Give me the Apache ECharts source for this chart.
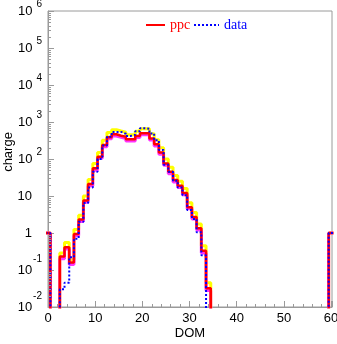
<!DOCTYPE html>
<html>
<head>
<meta charset="utf-8">
<script src="https://cdn.jsdelivr.net/npm/echarts@6/dist/echarts.min.js"></script>
<style>
  html, body { margin: 0; padding: 0; background: #fff; }
  #chart { width: 337px; height: 344px; }
</style>
</head>
<body>
<div id="chart"></div>
<script>
// Charge per DOM (bins centred on integer DOM numbers 0..60)
const ppc = [
  1, 0, 0, 0.23, 0.41, 0.16, 0.94, 2.3, 7.5, 21,
  56, 115, 240, 390, 465, 425, 400, 340, 340, 420,
  500, 500, 360, 250, 150, 76, 45, 27, 19, 12,
  5.0, 2.7, 1.34, 0.33, 0.032, 0, 0, 0, 0, 0,
  0, 0, 0, 0, 0, 0, 0, 0, 0, 0,
  0, 0, 0, 0, 0, 0, 0, 0, 0, 0,
  1
];
const ppcUpper = [
  1, 0, 0, 0.29, 0.55, 0.19, 1.25, 3.0, 10, 28,
  75, 150, 320, 520, 620, 570, 530, 450, 450, 560,
  660, 660, 480, 330, 200, 100, 60, 36, 25, 16,
  6.6, 3.6, 1.75, 0.45, 0.045, 0, 0, 0, 0, 0,
  0, 0, 0, 0, 0, 0, 0, 0, 0, 0,
  0, 0, 0, 0, 0, 0, 0, 0, 0, 0,
  1
];
const ppcLower = [
  1, 0, 0, 0.2, 0.37, 0.14, 0.85, 2.05, 6.8, 19,
  50, 104, 215, 350, 420, 385, 360, 305, 305, 380,
  450, 450, 325, 225, 135, 68, 40, 24, 17, 10.8,
  4.5, 2.4, 1.2, 0.29, 0.028, 0, 0, 0, 0, 0,
  0, 0, 0, 0, 0, 0, 0, 0, 0, 0,
  0, 0, 0, 0, 0, 0, 0, 0, 0, 0,
  1
];
const data = [
  1, 0, 0, 0.03, 0.045, 0.22, 0.7, 2.0, 6.5, 17,
  45, 100, 230, 400, 540, 540, 480, 420, 450, 560,
  680, 660, 490, 320, 175, 70, 45, 26, 17, 10.5,
  4.2, 2.4, 1.05, 0.25, 0, 0, 0, 0, 0, 0,
  0, 0, 0, 0, 0, 0, 0, 0, 0, 0,
  0, 0, 0, 0, 0, 0, 0, 0, 0, 0,
  1
];
const xTickLabels = ['0', '10', '20', '30', '40', '50', '60'];

// empty bins sit far below the log axis floor and get clipped
const EMPTY = 1e-6;
function histSteps(values) {
  const pts = [];
  values.forEach((v, i) => {
    const y = v > 0 ? v : EMPTY;
    pts.push([i - 0.5, y], [i + 0.5, y]);
  });
  return pts;
}

// log-axis minor tick positions (2..9 x 10^n)
const minorTicks = [];
for (let e = -2; e < 6; e++) {
  for (let k = 2; k <= 9; k++) minorTicks.push([0, k * Math.pow(10, e)]);
}

const AXIS = '#9a9a9a';
const sans = 'Liberation Sans, Arial, sans-serif';
const serif = 'Liberation Serif, Times New Roman, serif';
const noSymbol = { color: 'rgba(0,0,0,0)', borderColor: 'rgba(0,0,0,0)', borderWidth: 0 };

const chart = echarts.init(document.getElementById('chart'), null, { renderer: 'canvas' });
chart.setOption({
  animation: false,
  backgroundColor: '#fff',
  grid: {
    left: 48, right: 5, top: 11, bottom: 37,
    containLabel: false, outerBoundsMode: 'none',
    show: true, borderColor: AXIS, borderWidth: 1
  },
  legend: [
    {
      data: [{ name: 'ppc', textStyle: { color: '#ff0000' } }],
      left: 140, top: 13, itemWidth: 19, itemHeight: 14, itemStyle: noSymbol,
      textStyle: { fontFamily: serif, fontSize: 14 }
    },
    {
      data: [{ name: 'data', textStyle: { color: '#0000ff' } }],
      left: 188, top: 13, itemWidth: 25, itemHeight: 14, itemStyle: noSymbol,
      textStyle: { fontFamily: serif, fontSize: 14 }
    }
  ],
  xAxis: {
    type: 'value', min: 0, max: 60.2, interval: 10,
    name: 'DOM', nameLocation: 'middle', nameGap: 20, nameMoveOverlap: false,
    nameTextStyle: { fontFamily: sans, fontSize: 13, color: '#000' },
    axisLine: { show: true, onZero: false, lineStyle: { color: AXIS } },
    axisTick: { show: true, inside: true, length: 6, lineStyle: { color: AXIS } },
    minorTick: { show: true, splitNumber: 5, length: 3, lineStyle: { color: AXIS } },
    splitLine: { show: false },
    axisLabel: {
      margin: 5, fontFamily: sans, fontSize: 13, color: '#000',
      formatter: v => {
        const idx = Math.round(v / 10);
        return Math.abs(v - idx * 10) < 1e-6 && xTickLabels[idx] !== undefined ? xTickLabels[idx] : '';
      }
    }
  },
  yAxis: {
    type: 'log', logBase: 10, min: 0.01, max: 1e6, splitNumber: 8,
    name: 'charge', nameLocation: 'middle', nameGap: 33, nameMoveOverlap: false,
    nameTextStyle: { fontFamily: sans, fontSize: 13, color: '#000', padding: [0, 0, 0, 14] },
    axisLine: { show: true, lineStyle: { color: AXIS } },
    axisTick: { show: true, inside: true, length: 6, lineStyle: { color: AXIS } },
    splitLine: { show: false },
    axisLabel: {
      margin: 6, color: '#000',
      formatter: v => {
        const e = Math.round(Math.log10(v));
        if (e === 0) return '{b|1}{pad|}';
        if (e === 1) return '{b|10}{pad|}';
        if (e < 0) return '{bn|10}{sn|' + e + '}';
        return '{b|10}{s|' + e + '}';
      },
      rich: {
        b: { fontFamily: sans, fontSize: 13, lineHeight: 24, verticalAlign: 'middle', color: '#000' },
        bn: { fontFamily: sans, fontSize: 13, lineHeight: 31, verticalAlign: 'middle', color: '#000' },
        s: { fontFamily: sans, fontSize: 10, lineHeight: 10, verticalAlign: 'top', padding: [0, 0, 0, 4], color: '#000' },
        sn: { fontFamily: sans, fontSize: 10, lineHeight: 10, verticalAlign: 'top', padding: [0, 0, 0, 1], color: '#000' },
        pad: { width: 10 }
      }
    }
  },
  series: [
    {
      name: 'ppc upper', type: 'line', data: histSteps(ppcUpper), symbol: 'none',
      lineStyle: { color: '#ffff00', width: 3 }, itemStyle: { color: '#ffff00' }, silent: true, z: 1
    },
    {
      name: 'ppc lower', type: 'line', data: histSteps(ppcLower), symbol: 'none',
      lineStyle: { color: '#ff33ff', width: 3 }, itemStyle: { color: '#ff33ff' }, silent: true, z: 2
    },
    {
      name: 'ppc', type: 'line', data: histSteps(ppc), symbol: 'none',
      lineStyle: { color: '#ff0000', width: 2.5 }, itemStyle: { color: '#ff0000' }, z: 3
    },
    {
      name: 'data', type: 'line', data: histSteps(data), symbol: 'none',
      lineStyle: { color: '#0000ff', width: 2, type: [2, 2] }, itemStyle: { color: '#0000ff' }, z: 4
    },
    {
      name: 'minor ticks', type: 'custom', data: minorTicks, silent: true, z: 5,
      encode: { x: 0, y: 1 },
      renderItem: (params, api) => {
        const p = api.coord([api.value(0), api.value(1)]);
        const y = Math.round(p[1]) + 0.5;
        return {
          type: 'line',
          shape: { x1: p[0], y1: y, x2: p[0] + 3, y2: y },
          style: { stroke: AXIS, lineWidth: 1 }
        };
      }
    }
  ]
});
</script>
</body>
</html>
